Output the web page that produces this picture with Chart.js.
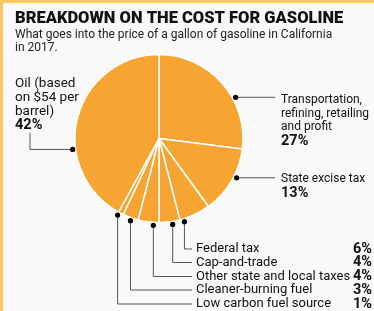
<!DOCTYPE html>
<html>
<head>
<meta charset="utf-8">
<script src="https://cdn.jsdelivr.net/npm/chart.js@4"></script>
<style>
  html, body { margin: 0; padding: 0; background: #f9f9f9; }
  #wrap { position: relative; width: 374px; height: 311px; box-sizing: border-box;
          border-top: 3px solid #fdc462; border-left: 3px solid #fdc462; }
  canvas { position: absolute; left: -3px; top: -3px; }
</style>
</head>
<body>
<div id="wrap"><canvas id="myChart" width="374" height="311"></canvas></div>
<script>
let categories = ['Transportation, refining, retailing and profit', 'State excise tax', 'Federal tax', 'Cap-and-trade',
  'Other state and local taxes', 'Cleaner-burning fuel', 'Low carbon fuel source', 'Oil (based on $54 per barrel)'];
let shares = [27, 13, 6, 4, 4, 3, 1, 42];
let title = 'BREAKDOWN ON THE COST FOR GASOLINE';
let subtitle = ['What goes into the price of a gallon of gasoline in California', 'in 2017.'];

// where each leader line touches its slice (fraction of the slice's sweep)
let anchors = [0.635, 0.42, 0.88, 0.37, 0.26, 0.44, 0.89, 0.357];
let bottomRows = [249, 262.5, 276.5, 290, 304];

const ink = '#111';
const lineCol = '#555';
const body = '"Roboto", sans-serif';

let labelPlugin = {
  id: 'gasLabels',
  afterDraw(chart) {
    let ctx = chart.ctx;
    let arcs = chart.getDatasetMeta(0).data;
    ctx.save();

    // heading
    ctx.fillStyle = ink;
    ctx.textBaseline = 'middle';
    ctx.textAlign = 'left';
    ctx.font = '900 16.5px ' + body;
    ctx.fillText(title, 15, 19);
    ctx.fillStyle = '#222';
    ctx.font = '12px ' + body;
    ctx.fillText(subtitle[0], 15, 35);
    ctx.fillText(subtitle[1], 15, 48);

    let dots = arcs.map((arc, i) => {
      let a = arc.startAngle + anchors[i] * (arc.endAngle - arc.startAngle);
      let r = arc.outerRadius + 3;
      return { x: arc.x + Math.cos(a) * r, y: arc.y + Math.sin(a) * r };
    });

    ctx.strokeStyle = lineCol;
    ctx.lineWidth = 1;
    ctx.beginPath();
    // right side
    [0, 1].forEach(i => { ctx.moveTo(dots[i].x, dots[i].y); ctx.lineTo(275, dots[i].y); });
    // bottom group
    for (let i = 2; i <= 6; i++) {
      let y = bottomRows[i - 2];
      ctx.moveTo(dots[i].x, dots[i].y);
      ctx.lineTo(dots[i].x, y);
      ctx.lineTo(192, y);
    }
    // oil
    ctx.moveTo(dots[7].x, dots[7].y);
    ctx.lineTo(30, dots[7].y);
    ctx.lineTo(30, 133);
    ctx.stroke();

    ctx.fillStyle = '#000';
    dots.forEach(d => { ctx.beginPath(); ctx.arc(d.x, d.y, 2.6, 0, Math.PI * 2); ctx.fill(); });

    // texts
    let bold = 'bold 14.5px ' + body;
    ctx.fillStyle = ink;
    ctx.font = '12px ' + body;
    ['Transportation,', 'refining, retailing', 'and profit'].forEach((t, k) => ctx.fillText(t, 281, 100 + k * 13.6));
    ctx.fillText('State excise tax', 281, 179);
    ctx.font = '13.5px ' + body;
    ['Oil (based', 'on $54 per', 'barrel)'].forEach((t, k) => ctx.fillText(t, 15, 83.5 + k * 14));
    ctx.font = bold;
    ctx.fillText(shares[0] + '%', 281, 141);
    ctx.fillText(shares[1] + '%', 281, 193);
    ctx.fillText(shares[7] + '%', 15, 125.5);

    for (let i = 2; i <= 6; i++) {
      let y = bottomRows[i - 2];
      ctx.font = '13px ' + body;
      ctx.textAlign = 'left';
      ctx.fillText(categories[i], 196, y);
      ctx.font = bold;
      ctx.textAlign = 'right';
      ctx.fillText(shares[i] + '%', 372, y);
    }
    ctx.restore();
  }
};

let ctx = document.getElementById('myChart').getContext('2d');
let myChart = new Chart(ctx, {
  type: 'pie',
  data: {
    labels: categories,
    datasets: [{
      data: shares,
      backgroundColor: '#f6a432',
      borderColor: '#ffffff',
      borderWidth: 1.5
    }]
  },
  options: {
    responsive: false,
    animation: false,
    radius: 84,
    layout: { padding: { left: 75, right: 131, top: 55, bottom: 89 } },
    plugins: {
      legend: { display: false },
      tooltip: { enabled: false }
    }
  },
  plugins: [labelPlugin]
});
</script>
</body>
</html>
